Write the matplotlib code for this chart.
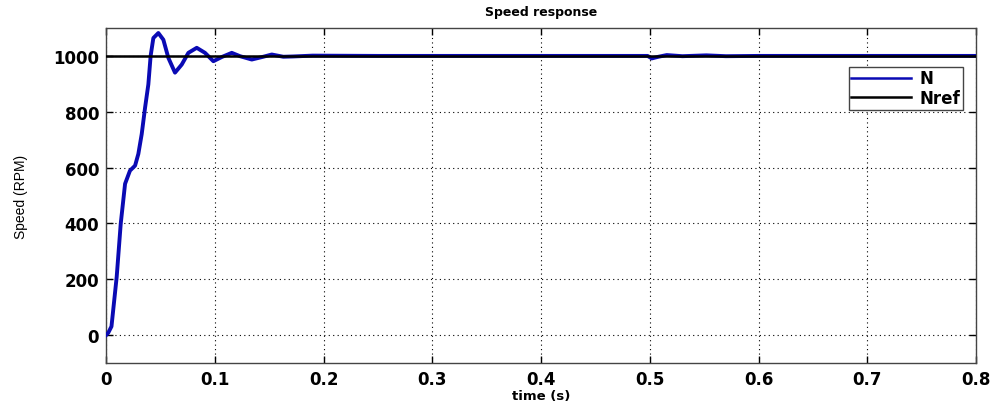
import matplotlib
matplotlib.use('Agg')
import matplotlib.pyplot as plt

# speed response readings (time in s, speed in RPM)
t_n = [0.0, 0.002, 0.005, 0.0098, 0.0135, 0.0175, 0.022, 0.0267, 0.0297, 0.0328,
       0.0359, 0.0389, 0.041, 0.0435, 0.0481, 0.0527, 0.0573, 0.0634, 0.0696,
       0.0757, 0.0834, 0.091, 0.0987, 0.1064, 0.1156, 0.1232, 0.134, 0.1446,
       0.1524, 0.163, 0.172, 0.19, 0.25, 0.35, 0.45, 0.498, 0.5018, 0.508,
       0.5156, 0.53, 0.552, 0.57, 0.6, 0.7, 0.8]
speed_n = [0, 8, 31, 209, 399, 542, 589, 607, 649, 720,
           815, 898, 1000, 1064, 1082, 1058, 993, 940, 969,
           1011, 1029, 1011, 981, 996, 1011, 999, 987, 997,
           1005, 997, 998, 1001, 1000, 1000, 1000, 1000, 991, 997,
           1003, 999, 1002, 999, 1000, 1000, 1000]

t_ref = [0.0, 0.8]
speed_ref = [1000, 1000]

x_ticks = [0, 0.1, 0.2, 0.3, 0.4, 0.5, 0.6, 0.7, 0.8]
x_labels = ['0', '0.1', '0.2', '0.3', '0.4', '0.5', '0.6', '0.7', '0.8']
y_ticks = [0, 200, 400, 600, 800, 1000]

plt.rcParams['font.family'] = ['DejaVu Sans']

fig = plt.figure(figsize=(9.92, 4.06), dpi=100)
ax = fig.add_axes([0.1069, 0.1034, 0.8770, 0.8252])

ax.plot(t_n, speed_n, color='#0a0ab4', linewidth=2.8, label='N', zorder=3)
ax.plot(t_ref, speed_ref, color='black', linewidth=1.8, label='Nref', zorder=4)

ax.set_xlim(0, 0.8)
ax.set_ylim(-100, 1100)
ax.set_xticks(x_ticks)
ax.set_xticklabels(x_labels)
ax.set_yticks(y_ticks)

ax.grid(True, color='black', linestyle=(0, (1, 3)), linewidth=0.8)
ax.tick_params(direction='in', length=5, width=1, labelsize=12, pad=5,
               top=True, right=True)
for lbl in ax.get_xticklabels() + ax.get_yticklabels():
    lbl.set_fontweight('bold')
for s in ax.spines.values():
    s.set_color('#444444')
    s.set_linewidth(1.0)

ax.set_title('Speed response', fontsize=9, fontweight='bold', pad=9)
ax.set_xlabel('time (s)', fontsize=9.5, fontweight='bold', labelpad=1)
ax.set_ylabel('Speed (RPM)', fontsize=10, labelpad=18,
              family=['Liberation Sans Narrow', 'Liberation Sans', 'DejaVu Sans'])

leg = ax.legend(loc='upper right', bbox_to_anchor=(0.985, 0.884),
                handlelength=3.6, fontsize=12, borderpad=0.15, labelspacing=0.1,
                handletextpad=0.5, fancybox=False, framealpha=1, borderaxespad=0)
leg.get_frame().set_edgecolor('#444444')
leg.get_frame().set_linewidth(1.0)
for txt in leg.get_texts():
    txt.set_fontweight('bold')
leg.get_lines()[0].set_linewidth(1.8)

fig.savefig('out.png', dpi=100, facecolor='white')
